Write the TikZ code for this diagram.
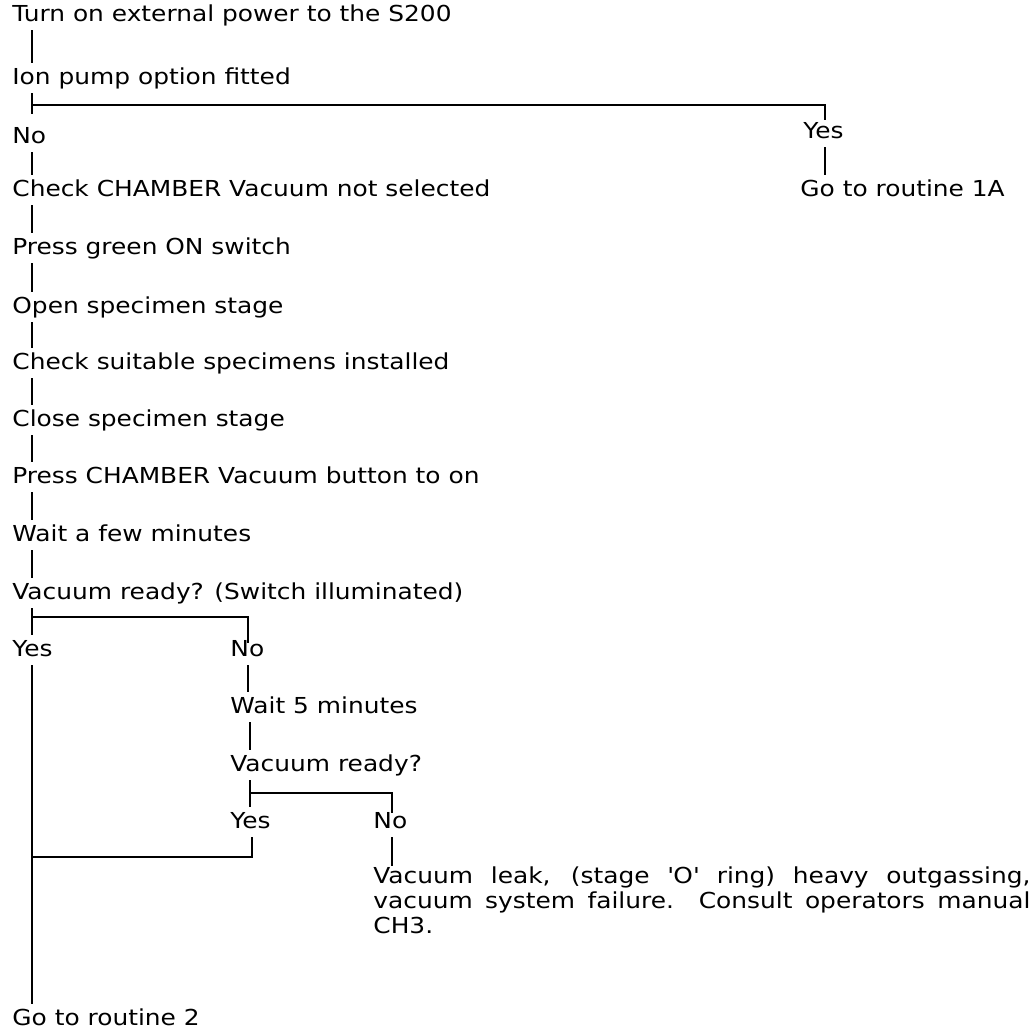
\documentclass[tikz,border=0pt]{standalone}
\usepackage{fontspec}
\setmainfont{DejaVu Sans}[FakeStretch=1.13]
\usetikzlibrary{positioning}

\begin{document}
\begin{tikzpicture}[
  x=0.5pt, y=-0.5pt,
  txt/.style={anchor=west, inner xsep=0pt, inner ysep=2pt,
              text height=8.5pt, text depth=2.5pt,
              font=\fontsize{11pt}{12.5pt}\selectfont},
  link/.style={line width=0.9pt, black},
]
\useasboundingbox (0,0) rectangle (1036,1033);

%% Main column
\node[txt] (power) at (12,15)  {Turn on external power to the S200};
\node[txt] (ionpump) at (12,78) {Ion pump option fitted};
\node[txt] (no1) at (12,137)   {No};
\node[txt] (yes1) at (803,132) {Yes};
\node[txt] (routine1A) at (800,190) {Go to routine 1A};
\node[txt] (notsel) at (12,190) {Check CHAMBER Vacuum not selected};
\node[txt] (green) at (12,248) {Press green ON switch};
\node[txt] (openst) at (12,307) {Open specimen stage};
\node[txt] (specs) at (12,363) {Check suitable specimens installed};
\node[txt] (closest) at (12,420) {Close specimen stage};
\node[txt] (vacon) at (12,477) {Press CHAMBER Vacuum button to on};
\node[txt] (waitfew) at (12,535) {Wait a few minutes};
\node[txt] (ready1) at (12,593) {Vacuum ready? (Switch illuminated)};
\node[txt] (yes2) at (12,650)  {Yes};
\node[txt] (no2) at (230,650)  {No};
\node[txt] (wait5) at (230,707) {Wait 5 minutes};
\node[txt] (ready2) at (230,765) {Vacuum ready?};
\node[txt] (yes3) at (230,822) {Yes};
\node[txt] (no3) at (373,822)  {No};
\node[anchor=north west, inner sep=0pt, text width=328.5pt, align=justify,
      font=\fontsize{11pt}{12.5pt}\selectfont] (leak) at (373,866)
  {Vacuum leak, (stage \textquotesingle O\textquotesingle\ ring) heavy outgassing,\linebreak
   vacuum system failure.\ \ Consult operators manual\linebreak
   CH3.};
\node[txt] (routine2) at (12,1019) {Go to routine 2};

%% Branch points
\coordinate (fork1) at (32,105);
\coordinate (fork2) at (32,617);
\coordinate (fork3) at (250,793);
\coordinate (join) at (32,857);

%% Straight steps
\draw[link] ([xshift=10pt]power.south west) -- ([xshift=10pt]ionpump.north west);
\draw[link, shorten >=4pt] ([xshift=10pt]ionpump.south west) -- ([xshift=10pt]no1.north west);
\draw[link] (fork1) -| ([xshift=11pt, yshift=-1.5pt]yes1.north west);
\draw[link] ([xshift=11pt]yes1.south west) -- ([xshift=11pt]yes1.south west |- routine1A.north);
\draw[link] ([xshift=10pt]no1.south west) -- ([xshift=10pt]notsel.north west);
\draw[link] ([xshift=10pt]notsel.south west) -- ([xshift=10pt]green.north west);
\draw[link] ([xshift=10pt]green.south west) -- ([xshift=10pt]openst.north west);
\draw[link] ([xshift=10pt]openst.south west) -- ([xshift=10pt]specs.north west);
\draw[link] ([xshift=10pt]specs.south west) -- ([xshift=10pt]closest.north west);
\draw[link] ([xshift=10pt]closest.south west) -- ([xshift=10pt]vacon.north west);
\draw[link] ([xshift=10pt]vacon.south west) -- ([xshift=10pt]waitfew.north west);
\draw[link] ([xshift=10pt]waitfew.south west) -- ([xshift=10pt]ready1.north west);

%% First vacuum check
\draw[link] ([xshift=10pt]ready1.south west) -- ([xshift=10pt]yes2.north west);
\draw[link] (fork2) -| ([xshift=9pt, yshift=-4pt]no2.north west);
\draw[link] ([xshift=10pt]yes2.south west) -- ([xshift=10pt]routine2.north west);
\draw[link] ([xshift=9pt]no2.south west) -- ([xshift=9pt]wait5.north west);
\draw[link] ([xshift=10pt]wait5.south west) -- ([xshift=10pt]ready2.north west);

%% Second vacuum check
\draw[link] ([xshift=10pt]ready2.south west) -- ([xshift=10pt]yes3.north west);
\draw[link] (fork3) -| ([xshift=9.5pt, yshift=-3pt]no3.north west);
\draw[link] ([xshift=11pt]yes3.south west) |- (join);
\draw[link] ([xshift=9.5pt]no3.south west) -- ([xshift=9.5pt]leak.north west);
\end{tikzpicture}
\end{document}
